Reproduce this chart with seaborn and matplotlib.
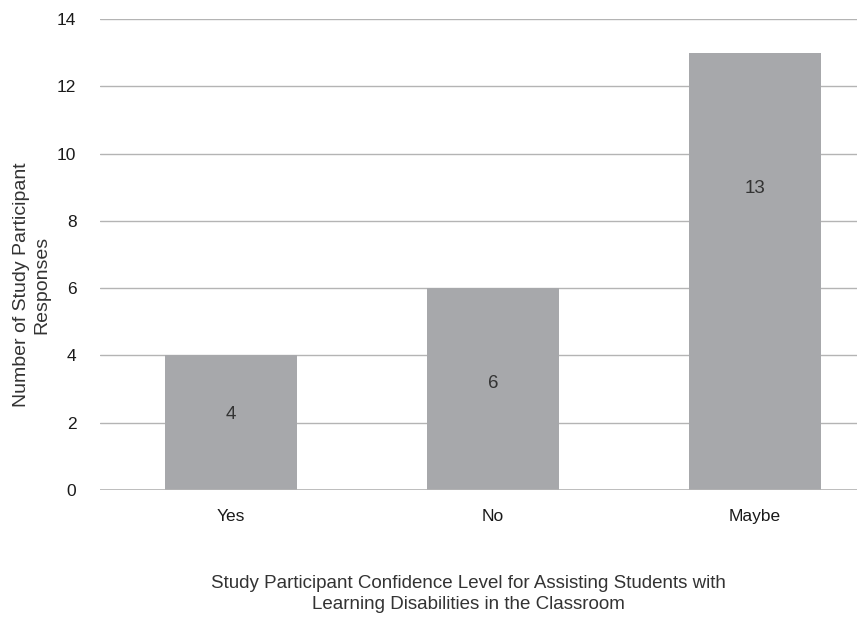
import seaborn as sns
import matplotlib.pyplot as plt
import pandas as pd

categories = ["Yes", "No", "Maybe"]
responses = [4, 6, 13]
y_ticks = [0, 2, 4, 6, 8, 10, 12, 14]

df = pd.DataFrame({"answer": categories, "count": responses})

sns.set_theme(style="white")
plt.rcParams['font.family'] = ['Liberation Sans', 'DejaVu Sans']

fig = plt.figure(figsize=(8.57, 6.18), dpi=100)
ax = fig.add_axes([0.1167, 0.2071, 0.8833, 0.7621])

sns.barplot(data=df, x="answer", y="count", color="#a7a8ab", width=0.505,
            saturation=1, linewidth=0, ax=ax, zorder=3)

ax.set_ylim(0, 14)
ax.set_xlim(-0.5, 2.39)
ax.set_yticks(y_ticks)
ax.yaxis.grid(True, color="#b4b4b4", linewidth=1, zorder=0)
ax.set_axisbelow(True)
for s in ax.spines.values():
    s.set_visible(False)
ax.axhline(0, color="#b4b4b4", linewidth=1.2, zorder=4)
ax.tick_params(axis="both", length=0, labelsize=12.5, colors="#1a1a1a")
ax.tick_params(axis="y", pad=17)
ax.tick_params(axis="x", pad=14)

# value labels inside the bars (same offsets as the original)
label_pos = [0.56, 0.53, 0.69]
for i, (v, f) in enumerate(zip(responses, label_pos)):
    ax.text(i, v * f, str(v), ha="center", va="center", fontsize=13.5, color="#333333")

ax.set_xlabel("Study Participant Confidence Level for Assisting Students with\nLearning Disabilities in the Classroom",
              fontsize=13.5, color="#333333", linespacing=1.3)
ax.xaxis.set_label_coords(0.487, -0.18)
ax.set_ylabel("Number of Study Participant\nResponses", fontsize=14, color="#333333",
              linespacing=1.25)
ax.yaxis.set_label_coords(-0.066, 0.435)

fig.savefig("out.png", dpi=100)
